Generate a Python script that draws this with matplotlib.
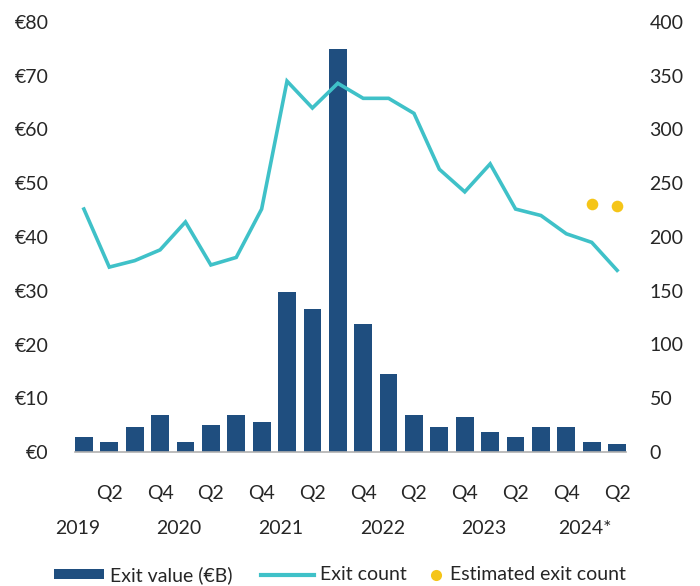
import numpy as np
import matplotlib.pyplot as plt
from matplotlib.lines import Line2D
from matplotlib.patches import Rectangle
from matplotlib import transforms

plt.rcParams['font.family'] = ['Lato', 'DejaVu Sans']

# data: quarterly, 2019 Q1 .. 2024 Q2
quarters = ["Q1", "Q2", "Q3", "Q4"] * 5 + ["Q1", "Q2"]
exit_value = [2.8, 1.9, 4.7, 6.9, 1.9, 5.1, 6.9, 5.5, 29.8, 26.6, 75.0,
              23.8, 14.6, 6.9, 4.6, 6.5, 3.7, 2.8, 4.6, 4.6, 1.9, 1.4]
exit_count = [226, 172, 178, 188, 214, 174, 181, 226, 345, 320, 343,
              329, 329, 315, 263, 242, 268, 226, 220, 203, 195, 169]
est_count = [231, 229]          # 2024 Q1, Q2
est_idx = [20, 21]
years = ["2019", "2020", "2021", "2022", "2023", "2024*"]
year_idx = [0, 4, 8, 12, 16, 20]

bar_color = "#1f4e7f"
line_color = "#3fc1c8"
dot_color = "#f5c518"
txt = "#262626"
fs = 14

W, H = 700, 586
x = np.arange(len(exit_value))

fig = plt.figure(figsize=(7, 5.86), dpi=100)
ax = fig.add_axes([75/W, 134/H, 551/W, 430/H])
ax2 = ax.twinx()

ax.bar(x, exit_value, width=0.7, color=bar_color, zorder=2)
ax2.plot(x, exit_count, color=line_color, lw=2.6, solid_joinstyle="miter", zorder=3)
ax2.scatter(est_idx, est_count, s=70, color=dot_color, zorder=4, linewidths=0)

ax.set_xlim(-0.35, 21.35)
ax.set_ylim(0, 80)
ax2.set_ylim(0, 400)
ax.set_yticks(range(0, 81, 10))
ax.set_yticklabels([f"€{v}" for v in range(0, 81, 10)])
ax2.set_yticks(range(0, 401, 50))

ax.set_xticks(x)
ax.set_xticklabels([q if q in ("Q2", "Q4") else "" for q in quarters])

for a in (ax, ax2):
    for s in a.spines.values():
        s.set_visible(False)
    a.tick_params(length=0, labelsize=fs, colors=txt)
ax.spines["bottom"].set_visible(True)
ax.spines["bottom"].set_color("#b0b0b0")
ax.spines["bottom"].set_linewidth(1.2)
ax.tick_params(axis="y", pad=19)
ax2.tick_params(axis="y", pad=17)
ax.tick_params(axis="x", pad=24)

trans = transforms.blended_transform_factory(ax.transData, fig.transFigure)
for xi, yr in zip(year_idx, years):
    fig.text(xi - 0.25, (H - 528) / H, yr, transform=trans, ha="center",
             va="center", fontsize=fs, color=txt)

# legend drawn by hand
ly = (H - 575) / H
fig.patches.append(Rectangle((54/W, (H - 579)/H), 50/W, 10/H, transform=fig.transFigure,
                             facecolor=bar_color, edgecolor="none"))
fig.text(110/W, ly, "Exit value (€B)", va="center", fontsize=fs, color=txt)
fig.lines.append(Line2D([261/W, 314/W], [ly, ly], transform=fig.transFigure,
                        color=line_color, lw=3))
fig.text(320/W, ly, "Exit count", va="center", fontsize=fs, color=txt)
fig.lines.append(Line2D([436/W], [ly], transform=fig.transFigure, marker="o",
                        markersize=8, markerfacecolor=dot_color, markeredgewidth=0,
                        linestyle="none"))
fig.text(450/W, ly, "Estimated exit count", va="center", fontsize=fs, color=txt)

fig.savefig("out.png", dpi=100)
